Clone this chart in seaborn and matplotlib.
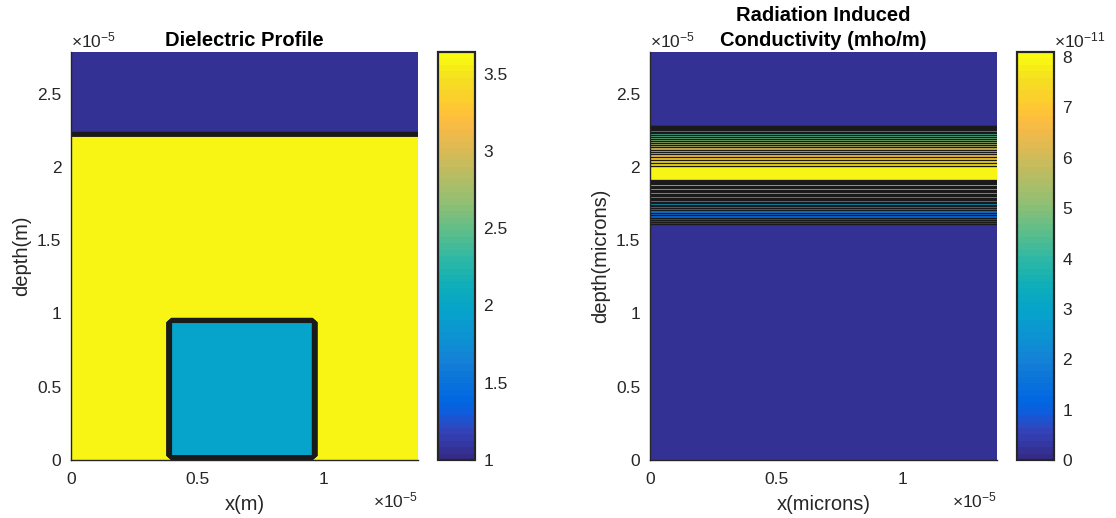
import numpy as np
import matplotlib
matplotlib.use("Agg")
import matplotlib.pyplot as plt
import seaborn as sns
from matplotlib.colors import LinearSegmentedColormap, Normalize
from matplotlib.cm import ScalarMappable
from matplotlib.ticker import ScalarFormatter

# ---------------- data ----------------
domain_width = 1.375e-5          # x extent (m)
domain_depth = 2.785e-5          # depth extent (m)

# dielectric profile
eps_top = 1.0                    # region above the interface
eps_layer = 3.64                 # main layer
eps_box = 2.0                    # embedded block
interface_depth = 2.235e-5
box_left, box_right = 0.385e-5, 0.965e-5
box_bottom, box_top = 0.015e-5, 0.965e-5
eps_ticks = [1, 1.5, 2, 2.5, 3, 3.5]

# radiation induced conductivity profile (depth in 1e-5 m, sigma in 1e-11 mho/m)
cond_depth = np.array([0.0, 1.59, 1.62, 1.65, 1.68, 1.71, 1.74, 1.77, 1.80, 1.83,
                       1.86, 1.89, 1.91, 1.94, 1.97, 2.00, 2.03, 2.06, 2.09, 2.12,
                       2.15, 2.18, 2.21, 2.24, 2.26, 2.28, 2.785]) * 1e-5
cond_value = np.array([0.0, 0.0, 0.4, 1.0, 1.5, 2.0, 2.6, 3.4, 4.3, 5.2,
                       6.1, 7.0, 7.8, 8.05, 8.1, 7.9, 7.5, 7.1, 6.7, 6.2,
                       5.7, 5.1, 4.5, 3.8, 3.4, 0.0, 0.0]) * 1e-11
cond_ticks = np.arange(0, 9) * 1e-11

# ---------------- style ----------------
sns.set_theme(style="white")
plt.rcParams['font.family'] = ['Liberation Sans', 'DejaVu Sans']
plt.rcParams['mathtext.fontset'] = 'custom'
plt.rcParams['mathtext.rm'] = 'Liberation Sans'
TXT = '#262626'
TICK_FS = 12.5
LABEL_FS = 14.5
TITLE_FS = 14.5

parula_anchors = [
    (0/63, (0.2081, 0.1663, 0.5292)), (4/63, (0.1959, 0.2645, 0.7279)),
    (7/63, (0.0591, 0.3598, 0.8683)), (9/63, (0.0060, 0.4086, 0.8828)),
    (15/63, (0.0779, 0.5040, 0.8384)), (19/63, (0.0488, 0.5772, 0.8228)),
    (23/63, (0.0231, 0.6418, 0.7913)), (27/63, (0.0590, 0.6838, 0.7254)),
    (31/63, (0.1801, 0.7177, 0.6424)), (35/63, (0.3482, 0.7424, 0.5473)),
    (39/63, (0.5300, 0.7491, 0.4661)), (43/63, (0.6834, 0.7435, 0.4044)),
    (47/63, (0.8185, 0.7327, 0.3498)), (51/63, (0.9450, 0.7261, 0.2886)),
    (53/63, (0.9938, 0.7455, 0.2403)), (55/63, (0.9955, 0.7861, 0.1967)),
    (59/63, (0.9626, 0.8705, 0.1309)), (63/63, (0.9763, 0.9831, 0.0538)),
]
parula = LinearSegmentedColormap.from_list('parula', parula_anchors, N=64)


class GFormatter(ScalarFormatter):
    """Scalar formatter with MATLAB-like short labels (0, 0.5, 1)."""
    def _set_format(self):
        self.format = '%g'


fig = plt.figure(figsize=(11.16, 5.18), dpi=100)
fig.patch.set_facecolor('white')

ax1 = fig.add_axes([0.0636, 0.112, 0.3109, 0.7876])
cax1 = fig.add_axes([0.3925, 0.112, 0.0332, 0.7876])
ax2 = fig.add_axes([0.5824, 0.112, 0.3109, 0.7876])
cax2 = fig.add_axes([0.9113, 0.112, 0.0332, 0.7876])

# ---------------- left: dielectric ----------------
x1 = np.linspace(0, domain_width, 70)
y1 = np.linspace(0, domain_depth, 93)
X1, Y1 = np.meshgrid(x1, y1)
Z1 = np.where(Y1 > interface_depth, eps_top, eps_layer)
in_box = (X1 >= box_left) & (X1 <= box_right) & (Y1 >= box_bottom) & (Y1 <= box_top)
Z1 = np.where(in_box, eps_box, Z1)

norm1 = Normalize(vmin=eps_top, vmax=eps_layer)
lev1 = np.linspace(eps_top, eps_layer + 1e-6, 30)
ax1.contourf(X1, Y1, Z1, levels=lev1, cmap=parula, norm=norm1)
ax1.contour(X1, Y1, Z1, levels=lev1[1:-1], colors='k', linewidths=0.8)

# ---------------- right: conductivity ----------------
x2 = np.array([0.0, domain_width])
X2, Y2 = np.meshgrid(x2, cond_depth)
Z2 = np.tile(cond_value[:, None], (1, len(x2)))
norm2 = Normalize(vmin=0, vmax=8.1e-11)
lev2 = np.linspace(0, 8.1e-11 + 1e-16, 31)
ax2.contourf(X2, Y2, Z2, levels=lev2, cmap=parula, norm=norm2)
ax2.contour(X2, Y2, Z2, levels=lev2[1:-1], colors='k', linewidths=0.95)


def style_main(ax, title, xlabel, ylabel):
    ax.set_xlim(0, domain_width)
    ax.set_ylim(0, domain_depth)
    ax.set_xticks([0, 0.5e-5, 1e-5])
    ax.set_yticks([0, 0.5e-5, 1e-5, 1.5e-5, 2e-5, 2.5e-5])
    for axis in (ax.xaxis, ax.yaxis):
        f = GFormatter(useMathText=True)
        f.set_powerlimits((0, 0))
        axis.set_major_formatter(f)
        axis.get_offset_text().set_fontsize(TICK_FS)
        axis.get_offset_text().set_color(TXT)
    ax.tick_params(axis='both', length=0, labelsize=TICK_FS, colors=TXT)
    ax.tick_params(axis='x', pad=8.5)
    ax.tick_params(axis='y', pad=7)
    for s in ('top', 'right'):
        ax.spines[s].set_visible(False)
    for s in ('left', 'bottom'):
        ax.spines[s].set_color(TXT)
        ax.spines[s].set_linewidth(1.0)
    ax.set_title(title, fontsize=TITLE_FS, fontweight='bold', color='black', pad=4,
                 linespacing=1.42)
    ax.set_xlabel(xlabel, fontsize=LABEL_FS, color=TXT, labelpad=6)
    ax.set_ylabel(ylabel, fontsize=LABEL_FS, color=TXT, labelpad=4)


style_main(ax1, 'Dielectric Profile', 'x(m)', 'depth(m)')
style_main(ax2, 'Radiation Induced\nConductivity (mho/m)', 'x(microns)', 'depth(microns)')


def style_cbar(cb):
    cb.outline.set_edgecolor(TXT)
    cb.outline.set_linewidth(1.6)
    cb.ax.tick_params(direction='in', length=4, width=0.8, color=TXT,
                      labelsize=TICK_FS, labelcolor=TXT, pad=6)


cb1 = fig.colorbar(ScalarMappable(norm=norm1, cmap=parula), cax=cax1)
cb1.set_ticks(eps_ticks)
cb1.set_ticklabels(['1', '1.5', '2', '2.5', '3', '3.5'])
style_cbar(cb1)

cb2 = fig.colorbar(ScalarMappable(norm=norm2, cmap=parula), cax=cax2)
f2 = GFormatter(useMathText=True)
f2.set_powerlimits((0, 0))
cb2.formatter = f2
cb2.set_ticks(cond_ticks)
style_cbar(cb2)
off = cb2.ax.yaxis.get_offset_text()
off.set_fontsize(TICK_FS)
off.set_color(TXT)
cb2.ax.yaxis.set_offset_position('right')
off.set_ha('left')

fig.savefig('out.png', dpi=100, facecolor='white')
